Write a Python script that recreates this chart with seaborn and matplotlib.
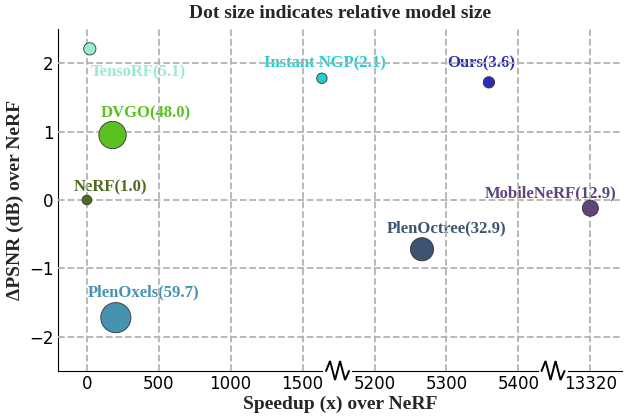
import numpy as np
import pandas as pd
import matplotlib
matplotlib.use("Agg")
import matplotlib.pyplot as plt
import seaborn as sns

# data
models = ["NeRF", "TensoRF", "DVGO", "PlenOxels", "Instant NGP", "Ours", "PlenOctree", "MobileNeRF"]
speedup = [1, 21, 179, 202, 1634, 5359, 5266, 13320]
delta_psnr = [0.0, 2.21, 0.95, -1.72, 1.78, 1.72, -0.72, -0.12]
model_size = [1.0, 5.1, 48.0, 59.7, 2.1, 3.6, 32.9, 12.9]
xtick_values = [0, 500, 1000, 1500, 5200, 5300, 5400, 13320]

colors = ["#4e6b1f", "#9aeacf", "#5cc11f", "#4692b1", "#22cfd0", "#2c2cb8", "#3c5372", "#5e4679"]
# label offsets (pixels) from each dot to the left/centre of its label
label_offsets = [(-13, 13), (1, -24), (-12, 22), (-28, 25), (-58, 15), (-42, 19), (-35, 21), (-106, 15)]

# broken x axis: piecewise linear scale, one tick step per grid column
XK = [-10000, 1739, 5148, 5447, 13268, 30000]
PK = [-20, 1739 / 500, 4 + (5148 - 5200) / 100, 4 + (5447 - 5200) / 100,
      7 + (13268 - 13320) / 100, 7 + (30000 - 13320) / 100]
BREAKS = [3400, 9000]


def fwd(x):
    return np.interp(x, XK, PK)


def inv(p):
    return np.interp(p, PK, XK)


df = pd.DataFrame({"model": models, "speedup": speedup, "psnr": delta_psnr, "size": model_size})

sns.set_style("whitegrid", {"grid.linestyle": "--", "grid.color": "#b3b3b3",
                            "axes.edgecolor": "black", "axes.linewidth": 1.4})
plt.rcParams["font.family"] = ["DejaVu Sans"]
plt.rcParams["axes.axisbelow"] = False
plt.rcParams["grid.linewidth"] = 1.3

fig = plt.figure(figsize=(6.24, 4.19), dpi=100)
ax = fig.add_axes([58 / 624, 1 - 371 / 419, 564 / 624, 342 / 419])
ax.set_xscale("function", functions=(fwd, inv))

sns.scatterplot(data=df, x="speedup", y="psnr", hue="model", palette=colors,
                size="size", sizes=(48, 471), size_norm=(1.0, 59.7),
                edgecolor="#333333", linewidth=0.6, legend=False, zorder=3, ax=ax)

for name, sz, x, y, c, off in zip(models, model_size, speedup, delta_psnr, colors, label_offsets):
    ax.annotate(f"{name}({sz})", (x, y), xytext=off, textcoords="offset pixels",
                ha="left", va="center", color=c, fontsize=12, fontweight="bold",
                family="Liberation Serif", zorder=2)

ax.set_xlim(-200, 13364)
ax.set_ylim(-2.5, 2.5)
ax.set_xticks(xtick_values)
ax.set_xticklabels([str(v) for v in xtick_values])
ax.set_yticks([-2, -1, 0, 1, 2])
ax.tick_params(axis="both", length=0, pad=3, labelsize=12, colors="black")
for side in ["top", "right"]:
    ax.spines[side].set_visible(False)

ax.set_title("Dot size indicates relative model size", fontsize=14, fontweight="bold",
             family="Liberation Serif", pad=8)
ax.set_xlabel("Speedup (x) over NeRF", fontsize=14, fontweight="bold", family="Liberation Serif", labelpad=2)
ax.set_ylabel("ΔPSNR (dB) over NeRF", fontsize=14, fontweight="bold", family="Liberation Serif", labelpad=4)

# zigzag break marks on the bottom spine
w_px = ax.get_position().width * 624
h_px = ax.get_position().height * 419
zx = np.array([-11, -7, -2, 3, 8, 12]) / w_px
zy = np.array([0, 10, -9, 10, -9, 0]) / h_px
for b in BREAKS:
    bx = ax.transAxes.inverted().transform(ax.transData.transform((b, 0)))[0]
    ax.plot([bx - 12 / w_px, bx + 13 / w_px], [0, 0], color="white", lw=3,
            transform=ax.transAxes, clip_on=False, zorder=5)
    ax.plot(bx + zx, zy, color="black", lw=1.4, transform=ax.transAxes,
            clip_on=False, zorder=6, solid_joinstyle="miter")

fig.savefig("out.png", dpi=100)
